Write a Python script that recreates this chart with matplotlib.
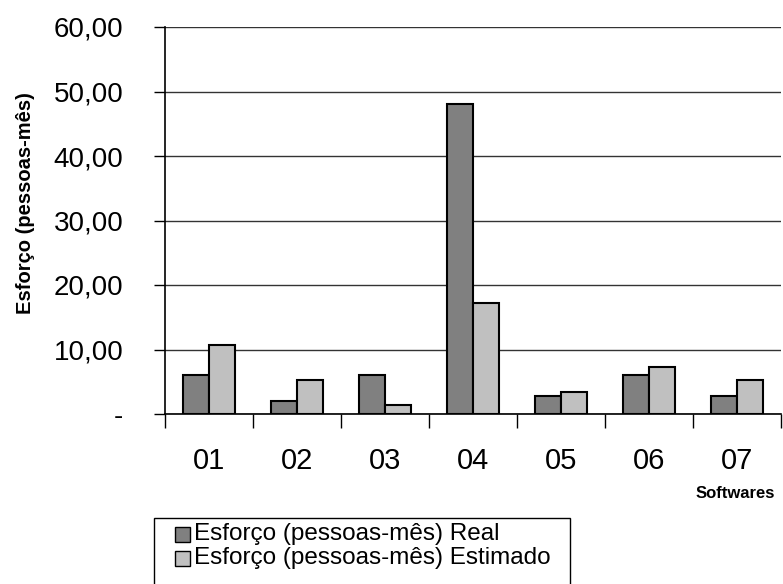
import numpy as np
import matplotlib.pyplot as plt
from matplotlib.patches import Rectangle
from matplotlib.ticker import FuncFormatter

plt.rcParams['font.family'] = ['Liberation Sans', 'DejaVu Sans']

softwares = ['01', '02', '03', '04', '05', '06', '07']
esforco_real = [6.0, 2.0, 6.0, 48.0, 2.8, 6.0, 2.8]
esforco_estimado = [10.7, 5.2, 1.4, 17.2, 3.4, 7.3, 5.2]
series_names = ['Esforço (pessoas-mês) Real', 'Esforço (pessoas-mês) Estimado']
series_colors = ['#808080', '#c0c0c0']

W, H = 783, 584
fig = plt.figure(figsize=(W / 100, H / 100), dpi=100)


def fx(px):
    return px / W


def fy(py):
    return 1 - py / H


# plot area: x 165..781, y 27..414 (pixels from top-left)
ax = fig.add_axes([fx(165), fy(414), fx(781 - 165), (414 - 27) / H])

x = np.arange(len(softwares))
w = 0.29
for i, vals in enumerate([esforco_real, esforco_estimado]):
    ax.bar(x + (i - 0.5) * w, vals, w, color=series_colors[i], edgecolor='black',
           linewidth=1.5, zorder=3)

ax.set_xlim(-0.5, len(softwares) - 0.5)
ax.set_ylim(0, 60)
ax.set_yticks(np.arange(0, 61, 10))
# zero shows as a dash, like a spreadsheet accounting format
ax.yaxis.set_major_formatter(FuncFormatter(lambda v, p: '-' if v == 0 else f'{v:.2f}'.replace('.', ',')))
ax.tick_params(axis='y', direction='out', length=8, width=1, labelsize=20, pad=22)

# category separators as ticks, labels sit in between
ax.set_xticks(np.arange(-0.5, len(softwares), 1.0))
ax.set_xticklabels([])
ax.set_xticks(x, minor=True)
ax.set_xticklabels(softwares, minor=True, fontsize=21)
ax.tick_params(axis='x', which='major', direction='out', length=10, width=1)
ax.tick_params(axis='x', which='minor', length=0, pad=24)

ax.grid(axis='y', color='#333333', linewidth=1, zorder=0)
ax.spines['top'].set_visible(False)
ax.spines['right'].set_visible(False)
ax.spines['left'].set_linewidth(1.2)
ax.spines['bottom'].set_linewidth(1.2)

fig.text(fx(26), fy(203), 'Esforço (pessoas-mês)', fontsize=14.5, fontweight='bold',
         rotation=90, ha='center', va='center')
fig.text(fx(775), fy(494), 'Softwares', fontsize=12, fontweight='bold', ha='right', va='center')

# legend box, running off the bottom edge
fig.patches.append(Rectangle((fx(154), fy(600)), fx(570 - 154), (600 - 518) / H,
                             transform=fig.transFigure, fill=False, edgecolor='black', lw=1))
for i, (name, col) in enumerate(zip(series_names, series_colors)):
    yc = 534 + 24 * i
    fig.patches.append(Rectangle((fx(175), fy(yc + 7.5)), fx(15), 15 / H, transform=fig.transFigure,
                                 facecolor=col, edgecolor='black', lw=1))
    fig.text(fx(194), fy(yc), name, fontsize=17.5, ha='left', va='center')

fig.savefig('out.png', dpi=100)
